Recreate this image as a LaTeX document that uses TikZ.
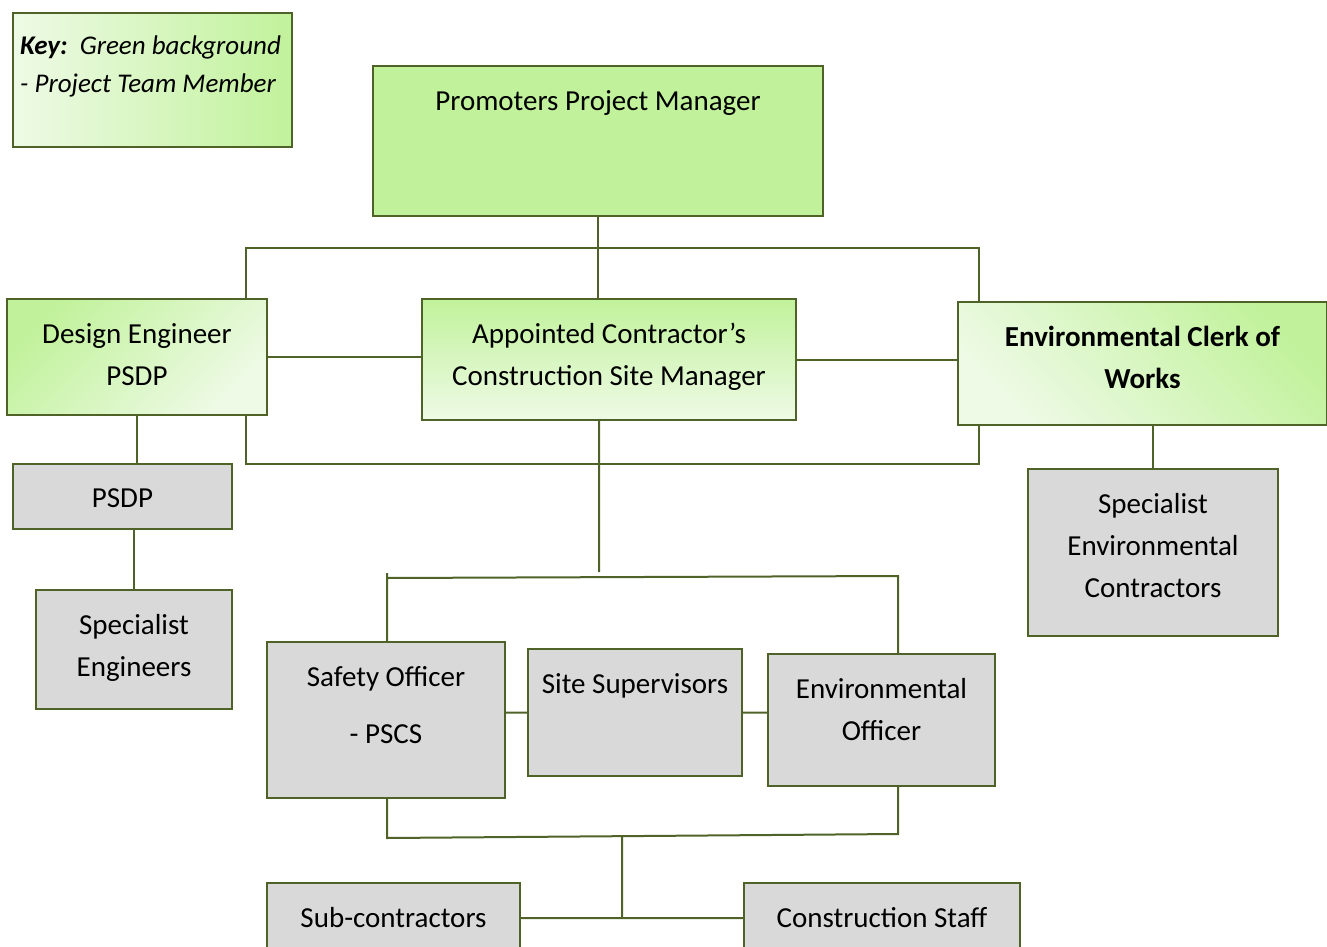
\documentclass[tikz,border=0pt]{standalone}
\usepackage{fontspec}
\setmainfont{Carlito}
\usetikzlibrary{positioning}

\definecolor{orgline}{RGB}{79,98,40}
\definecolor{teamgreen}{RGB}{193,242,155}
\definecolor{teampale}{RGB}{238,250,230}
\definecolor{staffgrey}{RGB}{217,217,217}

\begin{document}
\begin{tikzpicture}[x=1pt,y=-1pt,
    box/.style={draw=orgline,line width=2pt,anchor=north west,inner sep=0pt},
    team/.style={box,fill=teamgreen},
    staff/.style={box,fill=staffgrey},
    inlabel/.style={anchor=north,align=center,inner sep=0pt,yshift=-25pt,font=\fontsize{29}{42}\selectfont},
    caption/.style={label={[inlabel]north:#1}},
    boldcaption/.style={label={[inlabel,font=\bfseries\fontsize{29}{42}\selectfont]north:#1}},
    link/.style={draw=orgline,line width=2pt}]

  \useasboundingbox (0,0) rectangle (1327,947);

  % key
  \node [team,minimum width=279pt,minimum height=134pt,left color=teampale,right color=teamgreen,
    label={[anchor=north west,align=left,inner sep=0pt,xshift=8pt,yshift=-24pt,
      font=\itshape\fontsize{27}{38}\selectfont]north west:\textbf{Key:}\ \ Green background\\- Project Team Member}]
    (key) at (12,12) {};

  % project team
  \node [team,minimum width=450pt,minimum height=150pt,caption={Promoters Project Manager}] (ppm) at (372,65) {};
  \node [team,minimum width=260pt,minimum height=116pt,top color=teamgreen,bottom color=teampale,shading angle=45,
    caption={Design Engineer\\PSDP}] (de) at (6,298) {};
  \node [team,minimum width=374pt,minimum height=121pt,top color=teamgreen,bottom color=teampale,
    caption={Appointed Contractor’s\\Construction Site Manager}] (ac) at (421,298) {};
  \node [team,minimum width=369pt,minimum height=123pt,top color=teamgreen,bottom color=teampale,shading angle=-45,
    boldcaption={Environmental Clerk of\\Works}] (ecw) at (957,301) {};

  % others
  \node [staff,minimum width=219pt,minimum height=65pt,caption={PSDP}] (psdp) at (12,463) {};
  \node [staff,minimum width=196pt,minimum height=119pt,caption={Specialist\\Engineers}] (se) at (35,589) {};
  \node [staff,minimum width=250pt,minimum height=167pt,
    caption={Specialist\\Environmental\\Contractors}] (sec) at (1027,468) {};
  \node [staff,minimum width=238pt,minimum height=156pt,caption={Safety Officer\\[15pt]- PSCS}] (so) at (266,641) {};
  \node [staff,minimum width=214pt,minimum height=127pt,caption={Site Supervisors}] (ss) at (527,648) {};
  \node [staff,minimum width=227pt,minimum height=132pt,caption={Environmental\\Officer}] (eo) at (767,653) {};
  \node [staff,minimum width=253pt,minimum height=70pt,caption={Sub-contractors}] (sub) at (266,882) {};
  \node [staff,minimum width=276pt,minimum height=70pt,caption={Construction Staff}] (cs) at (743,882) {};

  % bus corners
  \coordinate (tl) at (246,248);
  \coordinate (tr) at (979,248);
  \coordinate (bl) at (246,464);
  \coordinate (br) at (979,464);
  \coordinate (acend) at (599,572);
  \coordinate (ml) at (387,578);
  \coordinate (mr) at (898,576);
  \coordinate (lbl) at (387,838);
  \coordinate (lbr) at (898,834);
  \coordinate (lbm) at (622,837);

  \path [link]
    (ppm.south) -- (ppm.south |- ac.north)
    (tl |- de.north) -- (tl) -- (tr) -- (tr |- ecw.north)
    (bl |- de.south) -- (bl) -- (br) -- (br |- ecw.south)
    (de.east) -- (de.east -| ac.west)
    (ac.east) -- (ac.east -| ecw.west)
    (de.south) -- (de.south |- psdp.north)
    (se.north |- psdp.south) -- (se.north)
    (sec.north |- ecw.south) -- (sec.north);

  \path [link]
    (acend |- ac.south) -- (acend)
    (ml |- so.north) -- ([yshift=5pt]ml) (ml) -- (mr) -- (mr |- eo.north)
    (ss.west -| so.east) -- (ss.west)
    (ss.east) -- (ss.east -| eo.west)
    (lbl |- so.south) -- (lbl) -- (lbr) -- (lbr |- eo.south)
    (lbm) -- (lbm |- sub.east)
    (sub.east) -- (cs.west);

\end{tikzpicture}
\end{document}
